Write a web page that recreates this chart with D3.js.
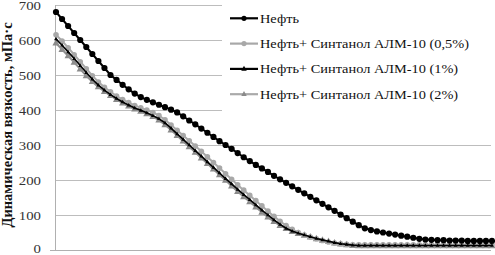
<!DOCTYPE html>
<html><head><meta charset="utf-8">
<script src="https://cdn.jsdelivr.net/npm/d3@7"></script>
<style>html,body{margin:0;padding:0;background:#fff;}svg{display:block;} text{font-family:"Liberation Serif","DejaVu Serif","Times New Roman",serif;}</style>
</head><body>
<script>
const seriesNames = ["Нефть","Нефть+ Синтанол АЛМ-10 (0,5%)","Нефть+ Синтанол АЛМ-10 (1%)","Нефть+ Синтанол АЛМ-10 (2%)"];
const yTicks = [0,100,200,300,400,500,600,700];
const yTitle = "Динамическая вязкость, мПа·с";
const neft = [680,660,640,620,600,580,560,540,520,500,486,472,459,447,437,429,422,415,408,401,393,382,370,359,347,335,323,311,300,289,277,265,254,243,233,223,212,202,192,182,172,162,152,142,132,122,112,101,91,81,71,62,57,53,50,47,44,41,38,35,32,30,29,28,28,27,27,27,26,26,26,26,26];
const s05 = [615,597,578,558,538,518,498,480,465,452,440,430,421,413,406,400,393,384,372,357,342,327,312,297,282,266,250,234,218,202,186,171,156,141,126,111,96,82,70,59,50,43,37,32,27,23,20,18,16,15,15,15,15,15,15,15,15,15,15,15,15,15,15,15,15,15,15,15,15,15,15,15,15];
const s1 = [603,585,566,547,527,507,488,471,457,444,433,423,414,406,399,392,384,375,363,348,332,316,300,284,268,252,236,220,204,189,173,158,144,129,114,100,86,73,62,54,48,43,38,33,29,25,21,18,16,14,13,13,13,13,13,13,13,13,13,13,13,13,13,13,13,13,13,13,13,13,13,13,13];
const s2 = [591,573,555,536,517,498,481,466,453,441,430,420,411,403,396,389,381,371,358,343,327,311,295,279,263,247,231,215,199,183,167,152,138,123,108,94,81,70,61,53,47,42,37,32,28,24,20,17,15,13,12,12,12,12,12,12,12,12,12,12,12,12,12,12,12,12,12,12,12,12,12,12,12];
const categories = neft.map((d,i)=>i+1);

const W=495,H=255;
const FONT='"Liberation Serif","DejaVu Serif","Times New Roman",serif';
const SX=1.14;
const svg=d3.select("body").append("svg").attr("width",W).attr("height",H);
const x=d3.scalePoint().domain(categories).range([56,492]);
const y=d3.scaleLinear().domain([0,700]).range([250,5]);

svg.append("g").selectAll("line").data(yTicks.filter(t=>t>0)).join("line")
  .attr("x1",55).attr("x2",491).attr("y1",d=>y(d)).attr("y2",d=>y(d))
  .attr("stroke","#bdbdbd").attr("stroke-width",1).attr("shape-rendering","crispEdges");
svg.append("line").attr("x1",55).attr("x2",55).attr("y1",y(700)).attr("y2",y(0))
  .attr("stroke","#b0b0b0").attr("shape-rendering","crispEdges");
svg.append("line").attr("x1",50).attr("x2",491).attr("y1",y(0)).attr("y2",y(0))
  .attr("stroke","#b0b0b0").attr("shape-rendering","crispEdges");

const yAxis=d3.axisLeft(y).tickValues(yTicks).tickSize(0).tickPadding(0);
const ga=svg.append("g").attr("transform","translate(41,0)").call(yAxis);
ga.select(".domain").remove();
ga.selectAll("text").attr("dy",null).attr("x",0).attr("y",d=>d===0?2.2:4.4)
  .attr("transform",`scale(${SX},1)`)
  .style("font-family",FONT).attr("font-size","13px").attr("fill","#333");

svg.append("text").attr("transform","translate(12,125) rotate(-90)").attr("text-anchor","middle")
  .style("font-family",FONT).attr("font-weight","bold").attr("font-size","14.5px")
  .attr("fill","#111").text(yTitle);

const series=[
 {name:seriesNames[3],data:s2,color:"#8f8f8f",lw:2,marker:"tri",mcolor:"#8a8a8a"},
 {name:seriesNames[1],data:s05,color:"#a8a8a8",lw:2,marker:"circle",mcolor:"#a8a8a8"},
 {name:seriesNames[2],data:s1,color:"#000",lw:1.6,marker:"tri",mcolor:"#000"},
 {name:seriesNames[0],data:neft,color:"#000",lw:2,marker:"circle",mcolor:"#000"}
];
const line=d3.line().x((d,i)=>x(categories[i])).y(d=>y(d));
const triPath=(s)=>`M0,${-s*0.62}L${s*0.55},${s*0.38}L${-s*0.55},${s*0.38}Z`;
series.forEach(s=>{
  const g=svg.append("g");
  if(s.marker==="tri" && s.mcolor!=="#000"){
    g.selectAll("path.m").data(s.data).join("path").attr("class","m")
     .attr("transform",(d,i)=>`translate(${x(categories[i])},${y(d)})`).attr("d",triPath(6.5)).attr("fill",s.mcolor);
    g.append("path").datum(s.data).attr("d",line).attr("fill","none").attr("stroke",s.color).attr("stroke-width",s.lw);
  } else {
    g.append("path").datum(s.data).attr("d",line).attr("fill","none").attr("stroke",s.color).attr("stroke-width",s.lw);
    if(s.marker==="circle"){
      g.selectAll("circle").data(s.data).join("circle").attr("cx",(d,i)=>x(categories[i])).attr("cy",d=>y(d))
        .attr("r",s.mcolor==="#000"?3.1:2.8).attr("fill",s.mcolor);
    } else {
      g.selectAll("path.m").data(s.data).join("path").attr("class","m")
       .attr("transform",(d,i)=>`translate(${x(categories[i])},${y(d)})`).attr("d",triPath(3.5)).attr("fill",s.mcolor);
    }
  }
});

const lg=svg.append("g");
lg.append("rect").attr("x",222).attr("y",0).attr("width",273).attr("height",118).attr("fill","#fff");
const legItems=[
 {name:seriesNames[0],color:"#000",marker:"circle",mcolor:"#000"},
 {name:seriesNames[1],color:"#a8a8a8",marker:"circle",mcolor:"#a8a8a8"},
 {name:seriesNames[2],color:"#000",marker:"tri",mcolor:"#000"},
 {name:seriesNames[3],color:"#aaaaaa",marker:"tri",mcolor:"#8a8a8a"}
];
legItems.forEach((it,k)=>{
  const yy=18.3+k*25.3;
  lg.append("line").attr("x1",230).attr("x2",258).attr("y1",yy).attr("y2",yy).attr("stroke",it.color).attr("stroke-width",2.2);
  if(it.marker==="circle") lg.append("circle").attr("cx",244).attr("cy",yy).attr("r",2.6).attr("fill",it.mcolor);
  else lg.append("path").attr("transform",`translate(244,${yy})`).attr("d",triPath(5)).attr("fill",it.mcolor);
  lg.append("text").attr("transform",`translate(260,${yy+4.3}) scale(${SX},1)`).style("font-family",FONT)
    .attr("font-size","12.6px").attr("fill","#111").text(it.name);
});
</script>
</body></html>
